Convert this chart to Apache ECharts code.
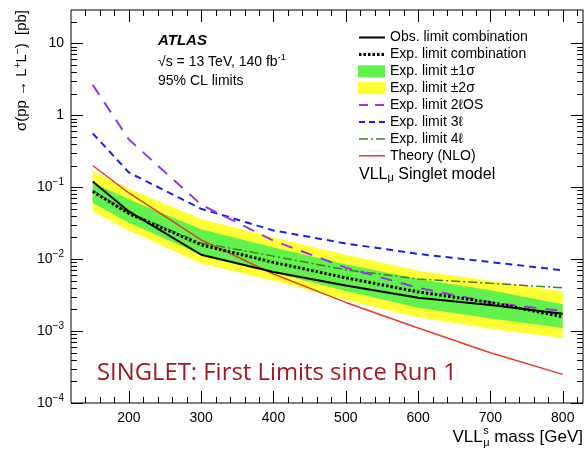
<!DOCTYPE html>
<html>
<head>
<meta charset="utf-8">
<script src="https://cdn.jsdelivr.net/npm/echarts@6/dist/echarts.min.js"></script>
<style>
  html, body { margin: 0; padding: 0; background: #fff; }
  #chart { width: 586px; height: 449px; }
</style>
</head>
<body>
<div id="chart"></div>
<script>
// VLL mass points [GeV]
const masses = [150, 200, 300, 400, 500, 600, 700, 800];

// 95% CL cross-section limits and theory prediction [pb]
const obsLimit  = [0.120, 0.046, 0.0115, 0.0066, 0.0043, 0.0029, 0.0023, 0.00174];
const expLimit  = [0.087, 0.043, 0.0158, 0.0090, 0.0055, 0.0035, 0.0025, 0.00158];
const expUp2    = [0.168, 0.095, 0.036, 0.020, 0.0115, 0.0069, 0.0050, 0.00355];
const expUp1    = [0.115, 0.068, 0.026, 0.0145, 0.0085, 0.0053, 0.0037, 0.00235];
const expDn1    = [0.060, 0.032, 0.0115, 0.0065, 0.0036, 0.0021, 0.0015, 0.00110];
const expDn2    = [0.046, 0.025, 0.0087, 0.0050, 0.0027, 0.00155, 0.00108, 0.00080];
const exp2lOS   = [2.64, 0.46, 0.057, 0.018, 0.0076, 0.0040, 0.0025, 0.0019];
const exp3l     = [0.56, 0.16, 0.050, 0.025, 0.0165, 0.0118, 0.0091, 0.0070];
const exp4l     = [0.090, 0.044, 0.0168, 0.0110, 0.0071, 0.0053, 0.0046, 0.0040];
const theoryNLO = [0.20, 0.083, 0.0185, 0.0062, 0.0025, 0.0011, 0.00050, 0.00025];

// axis ticks
const xMajorTicks = [200, 300, 400, 500, 600, 700, 800];
const xMinorTicks = [140, 160, 180, 220, 240, 260, 280, 320, 340, 360, 380, 420, 440, 460, 480,
                     520, 540, 560, 580, 620, 640, 660, 680, 720, 740, 760, 780, 820];
const yDecades = [1e-4, 1e-3, 1e-2, 1e-1, 1, 10];
const yMinorMultipliers = [2, 3, 4, 5, 6, 7, 8, 9];

const X_MIN = 120, X_MAX = 828, Y_MIN = 1e-4, Y_MAX = 29;
const FONT = '"Liberation Sans", Arial, Helvetica, sans-serif';

const GREEN = '#62f24e';
const YELLOW = '#ffff33';

// line styles shared by the plot and the legend
const STYLES = {
  obs:    { color: '#000',    width: 2,   dash: null },
  exp:    { color: '#000',    width: 3,   dash: [2.5, 2] },
  os2l:   { color: '#9a35ef', width: 2,   dash: [12, 9] },
  l3:     { color: '#1c22e0', width: 2,   dash: [7, 5] },
  l4:     { color: '#3f7d2f', width: 1.5, dash: [9, 3, 2, 3] },
  theory: { color: '#e63b2e', width: 1.5, dash: null }
};

const chart = echarts.init(document.getElementById('chart'), null, { renderer: 'canvas' });

function pairs(values) {
  return masses.map((m, i) => [m, values[i]]);
}

function bandSeries(name, upper, lower, color, z) {
  return {
    name: name,
    type: 'custom',
    coordinateSystem: 'cartesian2d',
    itemStyle: { color: color },
    z: z,
    silent: true,
    data: masses.map((m, i) => [m, upper[i], lower[i]]),
    encode: { x: 0, y: [1, 2] },
    renderItem: function (params, api) {
      if (params.dataIndex !== 0) return null;
      const pts = masses.map((m, i) => api.coord([m, upper[i]]));
      for (let i = masses.length - 1; i >= 0; i--) pts.push(api.coord([masses[i], lower[i]]));
      return { type: 'polygon', shape: { points: pts }, style: { fill: color } };
    }
  };
}

function lineSeries(name, values, st, z) {
  return {
    name: name,
    type: 'line',
    data: pairs(values),
    symbol: 'none',
    showSymbol: false,
    z: z,
    silent: true,
    lineStyle: { color: st.color, width: st.width, type: st.dash || 'solid', cap: 'butt' },
    itemStyle: { color: st.color }
  };
}

// inward ticks on all four sides of the frame
const tickSeries = {
  type: 'custom',
  coordinateSystem: 'cartesian2d',
  silent: true,
  z: 20,
  data: [[500, 1]],
  encode: { x: 0, y: 1 },
  renderItem: function (params, api) {
    const cs = params.coordSys;
    const left = cs.x, right = cs.x + cs.width, top = cs.y, bottom = cs.y + cs.height;
    const out = [];
    const seg = (x1, y1, x2, y2) => out.push({
      type: 'line', shape: { x1, y1, x2, y2 }, style: { stroke: '#000', lineWidth: 1 }
    });
    const xPix = v => Math.round(api.coord([v, 1])[0]) + 0.5;
    const yPix = v => Math.round(api.coord([500, v])[1]) + 0.5;
    xMajorTicks.forEach(v => { const x = xPix(v); seg(x, bottom, x, bottom - 12); seg(x, top, x, top + 12); });
    xMinorTicks.forEach(v => { const x = xPix(v); seg(x, bottom, x, bottom - 6); seg(x, top, x, top + 6); });
    yDecades.forEach(d => {
      const y = yPix(d); seg(left, y, left + 12, y); seg(right, y, right - 12, y);
      yMinorMultipliers.forEach(k => {
        const v = k * d;
        if (v > Y_MAX) return;
        const ym = yPix(v); seg(left, ym, left + 6, ym); seg(right, ym, right - 6, ym);
      });
    });
    return { type: 'group', children: out };
  }
};

// text measurement for composed labels
const measureCtx = document.createElement('canvas').getContext('2d');
function textWidth(text, font) { measureCtx.font = font; return measureCtx.measureText(text).width; }

function xTitleElements() {
  const fMain = '17px ' + FONT;
  const fSmall = '11px ' + FONT;
  const yc = 437;
  const right = 583;
  const massW = textWidth(' mass [GeV]', fMain);
  const stackW = Math.max(textWidth('s', fSmall), textWidth('μ', fSmall));
  const massX = right - massW;
  const stackX = massX - stackW;
  const base = { fill: '#000' };
  return [
    { type: 'text', x: massX, y: yc, style: Object.assign({ text: ' mass [GeV]', font: fMain, align: 'left', verticalAlign: 'middle' }, base) },
    { type: 'text', x: stackX, y: yc - 6, style: Object.assign({ text: 's', font: fSmall, align: 'left', verticalAlign: 'middle' }, base) },
    { type: 'text', x: stackX, y: yc + 6, style: Object.assign({ text: 'μ', font: fSmall, align: 'left', verticalAlign: 'middle' }, base) },
    { type: 'text', x: stackX - 0.5, y: yc, style: Object.assign({ text: 'VLL', font: fMain, align: 'right', verticalAlign: 'middle' }, base) }
  ];
}

// legend block: symbol column plus text column
const legendEntries = [
  { name: 'Obs. limit combination', line: STYLES.obs },
  { name: 'Exp. limit combination', line: STYLES.exp },
  { name: 'Exp. limit ±1σ', fill: GREEN },
  { name: 'Exp. limit ±2σ', fill: YELLOW },
  { name: 'Exp. limit 2ℓOS', line: STYLES.os2l, dash: [9, 7] },
  { name: 'Exp. limit 3ℓ', line: STYLES.l3, dash: [6, 4] },
  { name: 'Exp. limit 4ℓ', line: STYLES.l4 },
  { name: 'Theory (NLO)', line: STYLES.theory }
];

function legendElements() {
  const x0 = 359, x1 = 385, textX = 390, y0 = 37.5, step = 16.9;
  const els = [];
  legendEntries.forEach((e, i) => {
    const y = y0 + i * step;
    if (e.fill) {
      els.push({ type: 'rect', shape: { x: x0 - 1, y: y - 6, width: x1 - x0 + 1, height: 12 }, style: { fill: e.fill } });
    } else {
      els.push({ type: 'line', shape: { x1: x0, y1: y, x2: x1, y2: y },
        style: { stroke: e.line.color, lineWidth: e.line.width, lineDash: e.dash || e.line.dash || null, lineCap: 'butt' } });
    }
    els.push({ type: 'text', x: textX, y: y, style: { text: e.name, font: '14px ' + FONT, fill: '#000', align: 'left', verticalAlign: 'middle' } });
  });
  return els;
}

// red annotation, sized to span the lower part of the frame
const noteText = 'SINGLET: First Limits since Run 1';
const noteFamily = '"Open Sans", "Noto Sans", sans-serif';
const noteSize = 22 * 360 / textWidth(noteText, '22px ' + noteFamily);

const option = {
  animation: false,
  backgroundColor: '#fff',
  grid: { left: 71, top: 10, right: 3, bottom: 46, show: true, borderColor: '#000', borderWidth: 1, backgroundColor: 'transparent' },
  xAxis: {
    type: 'value', min: X_MIN, max: X_MAX, interval: 20,
    axisLine: { show: false }, axisTick: { show: false }, splitLine: { show: false },
    axisLabel: {
      interval: 0, margin: 8, color: '#000', fontSize: 14, fontFamily: FONT,
      formatter: v => (xMajorTicks.indexOf(v) >= 0 ? String(v) : '')
    }
  },
  yAxis: {
    type: 'log', logBase: 10, min: Y_MIN, max: Y_MAX,
    axisLine: { show: false }, axisTick: { show: false }, splitLine: { show: false },
    axisLabel: {
      margin: 7, color: '#000', fontSize: 14, fontFamily: FONT,
      formatter: function (v) {
        const e = Math.round(Math.log10(v));
        if (Math.abs(Math.log10(v) - e) > 1e-6) return '';
        if (e === 1) return '10';
        if (e === 0) return '1';
        return '10{sup|−' + (-e) + '}';
      },
      rich: { sup: { fontSize: 10, fontFamily: FONT, color: '#000', padding: [0, 0, 9, 0] } }
    }
  },
  graphic: [
    { type: 'text', x: 158, y: 41, style: { text: 'ATLAS', font: 'italic bold 15px ' + FONT, fill: '#000', align: 'left', verticalAlign: 'middle' } },
    { type: 'text', x: 158, y: 62, style: {
        text: '√s = 13 TeV, 140 fb{sup|-1}', font: '14px ' + FONT, fill: '#000', align: 'left', verticalAlign: 'middle',
        rich: { sup: { fontSize: 9, fontFamily: FONT, fill: '#000', padding: [0, 0, 8, 0] } }
    } },
    { type: 'text', x: 158, y: 81, style: { text: '95% CL limits', font: '14px ' + FONT, fill: '#000', align: 'left', verticalAlign: 'middle' } },
    { type: 'text', x: 359, y: 175, style: {
        text: 'VLL{sub|μ} Singlet model', font: '16px ' + FONT, fill: '#000', align: 'left', verticalAlign: 'middle',
        rich: { sub: { fontSize: 11, fontFamily: FONT, fill: '#000', padding: [6, 0, 0, 0] } }
    } },
    { type: 'text', x: 22, y: 10, rotation: Math.PI / 2, style: {
        text: 'σ(pp → L{sup|+}L{sup|−})  [pb]', font: '15px ' + FONT, fill: '#000', align: 'right', verticalAlign: 'middle',
        rich: { sup: { fontSize: 10, fontFamily: FONT, fill: '#000', padding: [0, 0, 8, 0] } }
    } },
    { type: 'text', x: 97, y: 373, z: 30, style: { text: noteText, font: noteSize.toFixed(2) + 'px ' + noteFamily, fill: '#a3171f', align: 'left', verticalAlign: 'middle' } }
  ].concat(xTitleElements(), legendElements()),
  series: [
    bandSeries('Exp. limit ±2σ', expUp2, expDn2, YELLOW, 1),
    bandSeries('Exp. limit ±1σ', expUp1, expDn1, GREEN, 2),
    lineSeries('Theory (NLO)', theoryNLO, STYLES.theory, 3),
    lineSeries('Exp. limit 4ℓ', exp4l, STYLES.l4, 4),
    lineSeries('Exp. limit 3ℓ', exp3l, STYLES.l3, 5),
    lineSeries('Exp. limit 2ℓOS', exp2lOS, STYLES.os2l, 6),
    lineSeries('Exp. limit combination', expLimit, STYLES.exp, 7),
    lineSeries('Obs. limit combination', obsLimit, STYLES.obs, 8),
    tickSeries
  ]
};

chart.setOption(option);
</script>
</body>
</html>
